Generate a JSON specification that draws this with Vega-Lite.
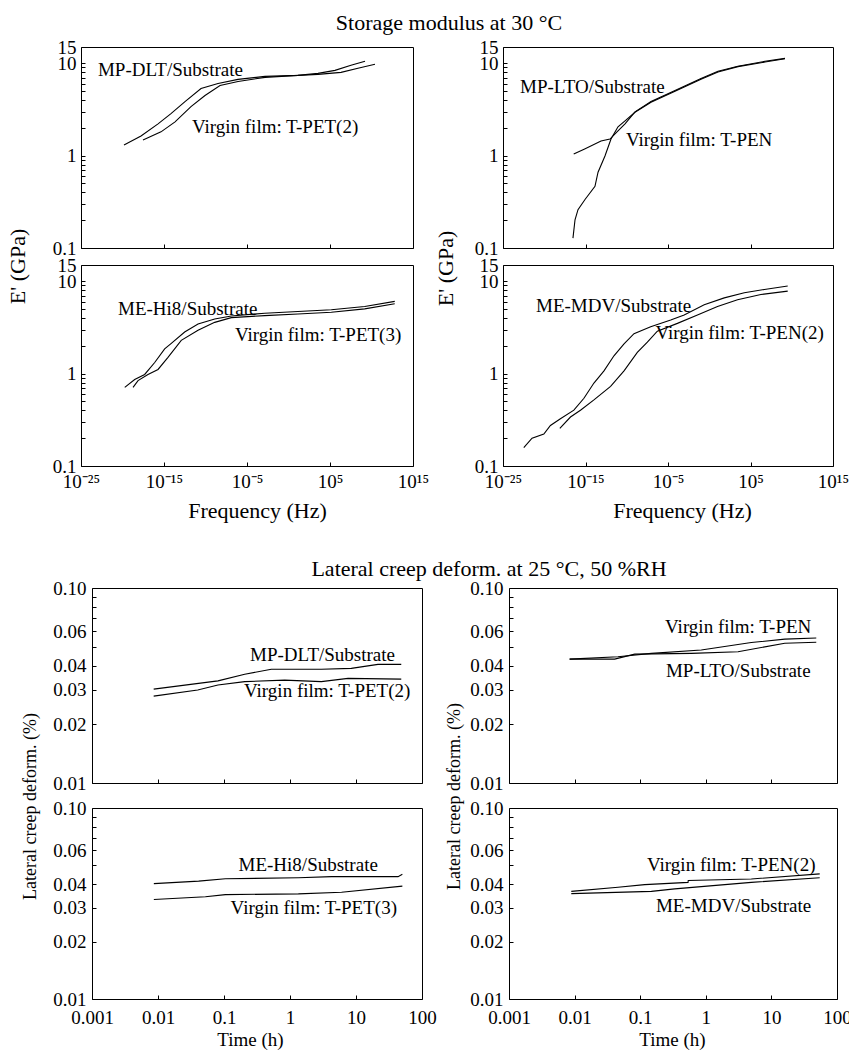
{
  "$schema": "https://vega.github.io/schema/vega-lite/v6.json",
  "background": "white",
  "padding": {"left": 5, "top": 11, "right": 0, "bottom": 0},
  "datasets": {
    "modulus": [
      {"panel": "DLT", "series": "MP-DLT/Substrate", "freq": 1.51e-20, "E": 1.30},
      {"panel": "DLT", "series": "MP-DLT/Substrate", "freq": 1.70e-18, "E": 1.63},
      {"panel": "DLT", "series": "MP-DLT/Substrate", "freq": 1.91e-16, "E": 2.21},
      {"panel": "DLT", "series": "MP-DLT/Substrate", "freq": 6.92e-15, "E": 2.85},
      {"panel": "DLT", "series": "MP-DLT/Substrate", "freq": 3.39e-13, "E": 3.85},
      {"panel": "DLT", "series": "MP-DLT/Substrate", "freq": 2.88e-11, "E": 5.33},
      {"panel": "DLT", "series": "MP-DLT/Substrate", "freq": 3.24e-9, "E": 6.04},
      {"panel": "DLT", "series": "MP-DLT/Substrate", "freq": 8.32e-7, "E": 6.69},
      {"panel": "DLT", "series": "MP-DLT/Substrate", "freq": 1.48e-3, "E": 7.21},
      {"panel": "DLT", "series": "MP-DLT/Substrate", "freq": 13.8, "E": 7.40},
      {"panel": "DLT", "series": "MP-DLT/Substrate", "freq": 3550, "E": 7.78},
      {"panel": "DLT", "series": "MP-DLT/Substrate", "freq": 3.98e5, "E": 8.38},
      {"panel": "DLT", "series": "MP-DLT/Substrate", "freq": 3.39e7, "E": 9.51},
      {"panel": "DLT", "series": "MP-DLT/Substrate", "freq": 1.66e9, "E": 10.5},
      {"panel": "DLT", "series": "T-PET(2)", "freq": 2.95e-18, "E": 1.48},
      {"panel": "DLT", "series": "T-PET(2)", "freq": 4.37e-16, "E": 1.81},
      {"panel": "DLT", "series": "T-PET(2)", "freq": 2.14e-14, "E": 2.32},
      {"panel": "DLT", "series": "T-PET(2)", "freq": 1.78e-12, "E": 3.39},
      {"panel": "DLT", "series": "T-PET(2)", "freq": 8.71e-11, "E": 4.47},
      {"panel": "DLT", "series": "T-PET(2)", "freq": 5.62e-9, "E": 5.75},
      {"panel": "DLT", "series": "T-PET(2)", "freq": 8.32e-7, "E": 6.36},
      {"panel": "DLT", "series": "T-PET(2)", "freq": 1.48e-3, "E": 7.03},
      {"panel": "DLT", "series": "T-PET(2)", "freq": 13.8, "E": 7.40},
      {"panel": "DLT", "series": "T-PET(2)", "freq": 3550, "E": 7.59},
      {"panel": "DLT", "series": "T-PET(2)", "freq": 2.14e6, "E": 7.97},
      {"panel": "DLT", "series": "T-PET(2)", "freq": 2.34e8, "E": 8.82},
      {"panel": "DLT", "series": "T-PET(2)", "freq": 2.63e10, "E": 9.75},

      {"panel": "LTO", "series": "MP-LTO/Substrate", "freq": 3.72e-17, "E": 1.04},
      {"panel": "LTO", "series": "MP-LTO/Substrate", "freq": 7.94e-16, "E": 1.18},
      {"panel": "LTO", "series": "MP-LTO/Substrate", "freq": 7.59e-14, "E": 1.44},
      {"panel": "LTO", "series": "MP-LTO/Substrate", "freq": 9.33e-13, "E": 1.51},
      {"panel": "LTO", "series": "MP-LTO/Substrate", "freq": 8.71e-12, "E": 1.85},
      {"panel": "LTO", "series": "MP-LTO/Substrate", "freq": 6.17e-11, "E": 2.21},
      {"panel": "LTO", "series": "MP-LTO/Substrate", "freq": 1e-9, "E": 2.98},
      {"panel": "LTO", "series": "MP-LTO/Substrate", "freq": 8.71e-8, "E": 3.85},
      {"panel": "LTO", "series": "MP-LTO/Substrate", "freq": 7.08e-5, "E": 5.07},
      {"panel": "LTO", "series": "MP-LTO/Substrate", "freq": 0.1, "E": 6.85},
      {"panel": "LTO", "series": "MP-LTO/Substrate", "freq": 11.5, "E": 8.18},
      {"panel": "LTO", "series": "MP-LTO/Substrate", "freq": 3020, "E": 9.27},
      {"panel": "LTO", "series": "MP-LTO/Substrate", "freq": 5.75e6, "E": 10.5},
      {"panel": "LTO", "series": "MP-LTO/Substrate", "freq": 1.51e9, "E": 11.3},
      {"panel": "LTO", "series": "T-PEN", "freq": 3.02e-17, "E": 0.128},
      {"panel": "LTO", "series": "T-PEN", "freq": 5.37e-17, "E": 0.202},
      {"panel": "LTO", "series": "T-PEN", "freq": 1.23e-16, "E": 0.260},
      {"panel": "LTO", "series": "T-PEN", "freq": 8.71e-16, "E": 0.335},
      {"panel": "LTO", "series": "T-PEN", "freq": 1.41e-14, "E": 0.465},
      {"panel": "LTO", "series": "T-PEN", "freq": 3.31e-14, "E": 0.661},
      {"panel": "LTO", "series": "T-PEN", "freq": 2.29e-13, "E": 0.99},
      {"panel": "LTO", "series": "T-PEN", "freq": 1.23e-12, "E": 1.51},
      {"panel": "LTO", "series": "T-PEN", "freq": 8.71e-12, "E": 2.05},
      {"panel": "LTO", "series": "T-PEN", "freq": 6.17e-11, "E": 2.38},
      {"panel": "LTO", "series": "T-PEN", "freq": 1e-9, "E": 2.95},
      {"panel": "LTO", "series": "T-PEN", "freq": 8.71e-8, "E": 3.78},
      {"panel": "LTO", "series": "T-PEN", "freq": 7.08e-5, "E": 4.98},
      {"panel": "LTO", "series": "T-PEN", "freq": 0.1, "E": 6.72},
      {"panel": "LTO", "series": "T-PEN", "freq": 11.5, "E": 8.05},
      {"panel": "LTO", "series": "T-PEN", "freq": 3020, "E": 9.20},
      {"panel": "LTO", "series": "T-PEN", "freq": 5.75e6, "E": 10.3},
      {"panel": "LTO", "series": "T-PEN", "freq": 1.51e9, "E": 11.2},

      {"panel": "Hi8", "series": "ME-Hi8/Substrate", "freq": 1.86e-20, "E": 0.71},
      {"panel": "Hi8", "series": "ME-Hi8/Substrate", "freq": 2.95e-19, "E": 0.863},
      {"panel": "Hi8", "series": "ME-Hi8/Substrate", "freq": 4.68e-18, "E": 0.98},
      {"panel": "Hi8", "series": "ME-Hi8/Substrate", "freq": 7.59e-17, "E": 1.32},
      {"panel": "Hi8", "series": "ME-Hi8/Substrate", "freq": 1.20e-15, "E": 1.85},
      {"panel": "Hi8", "series": "ME-Hi8/Substrate", "freq": 7.59e-15, "E": 2.13},
      {"panel": "Hi8", "series": "ME-Hi8/Substrate", "freq": 3.09e-13, "E": 2.82},
      {"panel": "Hi8", "series": "ME-Hi8/Substrate", "freq": 1.26e-11, "E": 3.44},
      {"panel": "Hi8", "series": "ME-Hi8/Substrate", "freq": 1.29e-9, "E": 3.90},
      {"panel": "Hi8", "series": "ME-Hi8/Substrate", "freq": 1.29e-7, "E": 4.21},
      {"panel": "Hi8", "series": "ME-Hi8/Substrate", "freq": 1.35e-3, "E": 4.51},
      {"panel": "Hi8", "series": "ME-Hi8/Substrate", "freq": 13.8, "E": 4.70},
      {"panel": "Hi8", "series": "ME-Hi8/Substrate", "freq": 1.45e5, "E": 4.91},
      {"panel": "Hi8", "series": "ME-Hi8/Substrate", "freq": 1.51e9, "E": 5.34},
      {"panel": "Hi8", "series": "ME-Hi8/Substrate", "freq": 6.31e12, "E": 6.06},
      {"panel": "Hi8", "series": "T-PET(3)", "freq": 1.86e-19, "E": 0.71},
      {"panel": "Hi8", "series": "T-PET(3)", "freq": 7.41e-19, "E": 0.84},
      {"panel": "Hi8", "series": "T-PET(3)", "freq": 1.17e-17, "E": 0.98},
      {"panel": "Hi8", "series": "T-PET(3)", "freq": 1.91e-16, "E": 1.11},
      {"panel": "Hi8", "series": "T-PET(3)", "freq": 3.02e-15, "E": 1.50},
      {"panel": "Hi8", "series": "T-PET(3)", "freq": 1.20e-13, "E": 2.29},
      {"panel": "Hi8", "series": "T-PET(3)", "freq": 1.26e-11, "E": 2.95},
      {"panel": "Hi8", "series": "T-PET(3)", "freq": 1.29e-9, "E": 3.59},
      {"panel": "Hi8", "series": "T-PET(3)", "freq": 1.29e-7, "E": 4.04},
      {"panel": "Hi8", "series": "T-PET(3)", "freq": 1.35e-3, "E": 4.25},
      {"panel": "Hi8", "series": "T-PET(3)", "freq": 13.8, "E": 4.43},
      {"panel": "Hi8", "series": "T-PET(3)", "freq": 1.45e5, "E": 4.62},
      {"panel": "Hi8", "series": "T-PET(3)", "freq": 1.51e9, "E": 5.03},
      {"panel": "Hi8", "series": "T-PET(3)", "freq": 6.31e12, "E": 5.71},

      {"panel": "MDV", "series": "ME-MDV/Substrate", "freq": 3.31e-23, "E": 0.158},
      {"panel": "MDV", "series": "ME-MDV/Substrate", "freq": 3.31e-22, "E": 0.200},
      {"panel": "MDV", "series": "ME-MDV/Substrate", "freq": 8.91e-21, "E": 0.222},
      {"panel": "MDV", "series": "ME-MDV/Substrate", "freq": 5.62e-20, "E": 0.275},
      {"panel": "MDV", "series": "ME-MDV/Substrate", "freq": 9.12e-19, "E": 0.325},
      {"panel": "MDV", "series": "ME-MDV/Substrate", "freq": 3.89e-17, "E": 0.402},
      {"panel": "MDV", "series": "ME-MDV/Substrate", "freq": 6.46e-16, "E": 0.541},
      {"panel": "MDV", "series": "ME-MDV/Substrate", "freq": 1.05e-14, "E": 0.791},
      {"panel": "MDV", "series": "ME-MDV/Substrate", "freq": 1.74e-13, "E": 1.07},
      {"panel": "MDV", "series": "ME-MDV/Substrate", "freq": 2.82e-12, "E": 1.56},
      {"panel": "MDV", "series": "ME-MDV/Substrate", "freq": 4.68e-11, "E": 2.10},
      {"panel": "MDV", "series": "ME-MDV/Substrate", "freq": 7.59e-10, "E": 2.71},
      {"panel": "MDV", "series": "ME-MDV/Substrate", "freq": 7.94e-8, "E": 3.21},
      {"panel": "MDV", "series": "ME-MDV/Substrate", "freq": 2.14e-5, "E": 3.80},
      {"panel": "MDV", "series": "ME-MDV/Substrate", "freq": 9.12e-4, "E": 4.32},
      {"panel": "MDV", "series": "ME-MDV/Substrate", "freq": 0.245, "E": 5.57},
      {"panel": "MDV", "series": "ME-MDV/Substrate", "freq": 66.1, "E": 6.61},
      {"panel": "MDV", "series": "ME-MDV/Substrate", "freq": 1.78e4, "E": 7.50},
      {"panel": "MDV", "series": "ME-MDV/Substrate", "freq": 4.79e6, "E": 8.16},
      {"panel": "MDV", "series": "ME-MDV/Substrate", "freq": 3.24e9, "E": 8.87},
      {"panel": "MDV", "series": "T-PEN(2)", "freq": 7.76e-19, "E": 0.256},
      {"panel": "MDV", "series": "T-PEN(2)", "freq": 1.51e-17, "E": 0.339},
      {"panel": "MDV", "series": "T-PEN(2)", "freq": 2.45e-16, "E": 0.402},
      {"panel": "MDV", "series": "T-PEN(2)", "freq": 1.05e-14, "E": 0.519},
      {"panel": "MDV", "series": "T-PEN(2)", "freq": 1.10e-12, "E": 0.728},
      {"panel": "MDV", "series": "T-PEN(2)", "freq": 4.68e-11, "E": 1.07},
      {"panel": "MDV", "series": "T-PEN(2)", "freq": 1.91e-9, "E": 1.70},
      {"panel": "MDV", "series": "T-PEN(2)", "freq": 3.16e-8, "E": 2.19},
      {"panel": "MDV", "series": "T-PEN(2)", "freq": 5.13e-7, "E": 2.88},
      {"panel": "MDV", "series": "T-PEN(2)", "freq": 1.38e-4, "E": 3.50},
      {"panel": "MDV", "series": "T-PEN(2)", "freq": 0.0372, "E": 4.32},
      {"panel": "MDV", "series": "T-PEN(2)", "freq": 10, "E": 5.34},
      {"panel": "MDV", "series": "T-PEN(2)", "freq": 2690, "E": 6.32},
      {"panel": "MDV", "series": "T-PEN(2)", "freq": 1.82e6, "E": 7.18},
      {"panel": "MDV", "series": "T-PEN(2)", "freq": 3.24e9, "E": 7.82}
    ],
    "modulusLabels": [
      {"panel": "DLT", "label": "MP-DLT/Substrate", "freq": 1.1e-23, "E": 8.4},
      {"panel": "DLT", "label": "Virgin film: T-PET(2)", "freq": 2.3e-12, "E": 2.05},
      {"panel": "LTO", "label": "MP-LTO/Substrate", "freq": 1.15e-23, "E": 5.47},
      {"panel": "LTO", "label": "Virgin film: T-PEN", "freq": 8.1e-11, "E": 1.48},
      {"panel": "Hi8", "label": "ME-Hi8/Substrate", "freq": 2.9e-21, "E": 5.03},
      {"panel": "Hi8", "label": "Virgin film: T-PET(3)", "freq": 3.5e-7, "E": 2.63},
      {"panel": "MDV", "label": "ME-MDV/Substrate", "freq": 1.0e-21, "E": 5.43},
      {"panel": "MDV", "label": "Virgin film: T-PEN(2)", "freq": 2.95e-7, "E": 2.73}
    ],
    "creep": [
      {"panel": "DLT", "series": "MP-DLT/Substrate", "time": 0.0086, "creep": 0.0303},
      {"panel": "DLT", "series": "MP-DLT/Substrate", "time": 0.081, "creep": 0.0334},
      {"panel": "DLT", "series": "MP-DLT/Substrate", "time": 0.206, "creep": 0.0361},
      {"panel": "DLT", "series": "MP-DLT/Substrate", "time": 0.521, "creep": 0.0383},
      {"panel": "DLT", "series": "MP-DLT/Substrate", "time": 1.32, "creep": 0.0383},
      {"panel": "DLT", "series": "MP-DLT/Substrate", "time": 2.98, "creep": 0.0383},
      {"panel": "DLT", "series": "MP-DLT/Substrate", "time": 8.49, "creep": 0.0387},
      {"panel": "DLT", "series": "MP-DLT/Substrate", "time": 21.5, "creep": 0.0406},
      {"panel": "DLT", "series": "MP-DLT/Substrate", "time": 48.5, "creep": 0.0406},
      {"panel": "DLT", "series": "T-PET(2)", "time": 0.0086, "creep": 0.0279},
      {"panel": "DLT", "series": "T-PET(2)", "time": 0.040, "creep": 0.0300},
      {"panel": "DLT", "series": "T-PET(2)", "time": 0.081, "creep": 0.0318},
      {"panel": "DLT", "series": "T-PET(2)", "time": 0.206, "creep": 0.0331},
      {"panel": "DLT", "series": "T-PET(2)", "time": 0.83, "creep": 0.0337},
      {"panel": "DLT", "series": "T-PET(2)", "time": 2.98, "creep": 0.0331},
      {"panel": "DLT", "series": "T-PET(2)", "time": 7.57, "creep": 0.0344},
      {"panel": "DLT", "series": "T-PET(2)", "time": 48.5, "creep": 0.0341},

      {"panel": "LTO", "series": "T-PEN", "time": 0.0084, "creep": 0.0432},
      {"panel": "LTO", "series": "T-PEN", "time": 0.0459, "creep": 0.0444},
      {"panel": "LTO", "series": "T-PEN", "time": 0.148, "creep": 0.0462},
      {"panel": "LTO", "series": "T-PEN", "time": 0.853, "creep": 0.0481},
      {"panel": "LTO", "series": "T-PEN", "time": 4.94, "creep": 0.0525},
      {"panel": "LTO", "series": "T-PEN", "time": 16.0, "creep": 0.0547},
      {"panel": "LTO", "series": "T-PEN", "time": 48.3, "creep": 0.0554},
      {"panel": "LTO", "series": "MP-LTO/Substrate", "time": 0.0084, "creep": 0.0432},
      {"panel": "LTO", "series": "MP-LTO/Substrate", "time": 0.0408, "creep": 0.0432},
      {"panel": "LTO", "series": "MP-LTO/Substrate", "time": 0.0824, "creep": 0.0458},
      {"panel": "LTO", "series": "MP-LTO/Substrate", "time": 0.601, "creep": 0.0462},
      {"panel": "LTO", "series": "MP-LTO/Substrate", "time": 3.10, "creep": 0.0471},
      {"panel": "LTO", "series": "MP-LTO/Substrate", "time": 16.0, "creep": 0.0521},
      {"panel": "LTO", "series": "MP-LTO/Substrate", "time": 48.3, "creep": 0.0527},

      {"panel": "Hi8", "series": "ME-Hi8/Substrate", "time": 0.00865, "creep": 0.0402},
      {"panel": "Hi8", "series": "ME-Hi8/Substrate", "time": 0.0413, "creep": 0.0414},
      {"panel": "Hi8", "series": "ME-Hi8/Substrate", "time": 0.105, "creep": 0.0426},
      {"panel": "Hi8", "series": "ME-Hi8/Substrate", "time": 1.34, "creep": 0.0431},
      {"panel": "Hi8", "series": "ME-Hi8/Substrate", "time": 4.27, "creep": 0.0437},
      {"panel": "Hi8", "series": "ME-Hi8/Substrate", "time": 43.4, "creep": 0.0437},
      {"panel": "Hi8", "series": "ME-Hi8/Substrate", "time": 50.4, "creep": 0.0450},
      {"panel": "Hi8", "series": "T-PET(3)", "time": 0.00865, "creep": 0.0332},
      {"panel": "Hi8", "series": "T-PET(3)", "time": 0.0523, "creep": 0.0343},
      {"panel": "Hi8", "series": "T-PET(3)", "time": 0.105, "creep": 0.0352},
      {"panel": "Hi8", "series": "T-PET(3)", "time": 1.34, "creep": 0.0355},
      {"panel": "Hi8", "series": "T-PET(3)", "time": 6.04, "creep": 0.0362},
      {"panel": "Hi8", "series": "T-PET(3)", "time": 50.4, "creep": 0.0390},

      {"panel": "MDV", "series": "T-PEN(2)", "time": 0.0089, "creep": 0.0366},
      {"panel": "MDV", "series": "T-PEN(2)", "time": 0.0459, "creep": 0.0385},
      {"panel": "MDV", "series": "T-PEN(2)", "time": 0.117, "creep": 0.0397},
      {"panel": "MDV", "series": "T-PEN(2)", "time": 0.536, "creep": 0.0408},
      {"panel": "MDV", "series": "T-PEN(2)", "time": 0.54, "creep": 0.0417},
      {"panel": "MDV", "series": "T-PEN(2)", "time": 4.94, "creep": 0.0425},
      {"panel": "MDV", "series": "T-PEN(2)", "time": 54.5, "creep": 0.0452},
      {"panel": "MDV", "series": "ME-MDV/Substrate", "time": 0.0089, "creep": 0.0356},
      {"panel": "MDV", "series": "ME-MDV/Substrate", "time": 0.148, "creep": 0.0366},
      {"panel": "MDV", "series": "ME-MDV/Substrate", "time": 0.336, "creep": 0.0377},
      {"panel": "MDV", "series": "ME-MDV/Substrate", "time": 4.94, "creep": 0.0408},
      {"panel": "MDV", "series": "ME-MDV/Substrate", "time": 54.5, "creep": 0.0431}
    ],
    "creepLabels": [
      {"panel": "DLT", "label": "MP-DLT/Substrate", "time": 0.248, "creep": 0.0453},
      {"panel": "DLT", "label": "Virgin film: T-PET(2)", "time": 0.201, "creep": 0.0297},
      {"panel": "LTO", "label": "Virgin film: T-PEN", "time": 0.239, "creep": 0.0634},
      {"panel": "LTO", "label": "MP-LTO/Substrate", "time": 0.247, "creep": 0.0374},
      {"panel": "Hi8", "label": "ME-Hi8/Substrate", "time": 0.166, "creep": 0.0501},
      {"panel": "Hi8", "label": "Virgin film: T-PET(3)", "time": 0.126, "creep": 0.0298},
      {"panel": "MDV", "label": "Virgin film: T-PEN(2)", "time": 0.127, "creep": 0.0505},
      {"panel": "MDV", "label": "ME-MDV/Substrate", "time": 0.174, "creep": 0.0305}
    ]
  },
  "vconcat": [
    {
      "title": {"text": "Storage modulus at 30 °C", "frame": "group", "anchor": "middle", "baseline": "alphabetic", "offset": -14, "dx": 368},
      "columns": 2,
      "bounds": "flush",
      "spacing": {"row": 17, "column": 90},
      "concat": [
        {
          "width": 332, "height": 201,
          "encoding": {
            "x": {"field": "freq", "type": "quantitative", "scale": {"type": "log", "domain": [1e-25, 1e15], "nice": false},
                  "axis": {"values": [1e-25, 1e-15, 1e-5, 1e5, 1e15], "labels": false, "title": null}},
            "y": {"field": "E", "type": "quantitative", "scale": {"type": "log", "domain": [0.1, 15], "nice": false},
                  "axis": {"values": [0.1, 0.2, 0.3, 0.4, 0.5, 0.6, 0.7, 0.8, 0.9, 1, 2, 3, 4, 5, 6, 7, 8, 9, 10, 15],
                           "labelExpr": "(datum.value == 0.1 || datum.value == 1 || datum.value == 10 || datum.value == 15) ? datum.label : ''",
                           "labelPadding": 9,
                           "title": "E' (GPa)", "titleFontSize": 22, "titleAngle": 270, "titleBaseline": "alphabetic", "titleAlign": "center", "titleX": -57, "titleY": 219}}
          },
          "layer": [
            {"data": {"name": "modulus"}, "transform": [{"filter": "datum.panel === 'DLT'"}],
             "mark": {"type": "line", "color": "black", "strokeWidth": 1.1},
             "encoding": {"detail": {"field": "series"}}},
            {"data": {"name": "modulusLabels"}, "transform": [{"filter": "datum.panel === 'DLT'"}],
             "mark": {"type": "text", "align": "left", "baseline": "middle", "fontSize": 19, "font": "Liberation Serif", "color": "black"},
             "encoding": {"text": {"field": "label"}}}
          ]
        },
        {
          "width": 330, "height": 201,
          "encoding": {
            "x": {"field": "freq", "type": "quantitative", "scale": {"type": "log", "domain": [1e-25, 1e15], "nice": false},
                  "axis": {"values": [1e-25, 1e-15, 1e-5, 1e5, 1e15], "labels": false, "title": null}},
            "y": {"field": "E", "type": "quantitative", "scale": {"type": "log", "domain": [0.1, 15], "nice": false},
                  "axis": {"values": [0.1, 0.2, 0.3, 0.4, 0.5, 0.6, 0.7, 0.8, 0.9, 1, 2, 3, 4, 5, 6, 7, 8, 9, 10, 15],
                           "labelExpr": "(datum.value == 0.1 || datum.value == 1 || datum.value == 10 || datum.value == 15) ? datum.label : ''",
                           "labelPadding": 9,
                           "title": "E' (GPa)", "titleFontSize": 22, "titleAngle": 270, "titleBaseline": "alphabetic", "titleAlign": "center", "titleX": -51, "titleY": 221}}
          },
          "layer": [
            {"data": {"name": "modulus"}, "transform": [{"filter": "datum.panel === 'LTO'"}],
             "mark": {"type": "line", "color": "black", "strokeWidth": 1.1},
             "encoding": {"detail": {"field": "series"}}},
            {"data": {"name": "modulusLabels"}, "transform": [{"filter": "datum.panel === 'LTO'"}],
             "mark": {"type": "text", "align": "left", "baseline": "middle", "fontSize": 19, "font": "Liberation Serif", "color": "black"},
             "encoding": {"text": {"field": "label"}}}
          ]
        },
        {
          "width": 332, "height": 201,
          "encoding": {
            "x": {"field": "freq", "type": "quantitative", "scale": {"type": "log", "domain": [1e-25, 1e15], "nice": false},
                  "axis": {"values": [1e-25, 1e-15, 1e-5, 1e5, 1e15],
                           "labelExpr": "datum.value < 1e-20 ? '10⁻²⁵' : datum.value < 1e-10 ? '10⁻¹⁵' : datum.value < 1 ? '10⁻⁵' : datum.value < 1e10 ? '10⁵' : '10¹⁵'",
                           "labelPadding": 25,
                           "title": "Frequency (Hz)", "titleFontSize": 22, "titleBaseline": "alphabetic", "titleX": 176, "titleY": 51}},
            "y": {"field": "E", "type": "quantitative", "scale": {"type": "log", "domain": [0.1, 15], "nice": false},
                  "axis": {"values": [0.1, 0.2, 0.3, 0.4, 0.5, 0.6, 0.7, 0.8, 0.9, 1, 2, 3, 4, 5, 6, 7, 8, 9, 10, 15],
                           "labelExpr": "(datum.value == 0.1 || datum.value == 1 || datum.value == 10 || datum.value == 15) ? datum.label : ''",
                           "labelPadding": 9, "title": null}}
          },
          "layer": [
            {"data": {"name": "modulus"}, "transform": [{"filter": "datum.panel === 'Hi8'"}],
             "mark": {"type": "line", "color": "black", "strokeWidth": 1.1},
             "encoding": {"detail": {"field": "series"}}},
            {"data": {"name": "modulusLabels"}, "transform": [{"filter": "datum.panel === 'Hi8'"}],
             "mark": {"type": "text", "align": "left", "baseline": "middle", "fontSize": 19, "font": "Liberation Serif", "color": "black"},
             "encoding": {"text": {"field": "label"}}}
          ]
        },
        {
          "width": 330, "height": 201,
          "encoding": {
            "x": {"field": "freq", "type": "quantitative", "scale": {"type": "log", "domain": [1e-25, 1e15], "nice": false},
                  "axis": {"values": [1e-25, 1e-15, 1e-5, 1e5, 1e15],
                           "labelExpr": "datum.value < 1e-20 ? '10⁻²⁵' : datum.value < 1e-10 ? '10⁻¹⁵' : datum.value < 1 ? '10⁻⁵' : datum.value < 1e10 ? '10⁵' : '10¹⁵'",
                           "labelPadding": 25,
                           "title": "Frequency (Hz)", "titleFontSize": 22, "titleBaseline": "alphabetic", "titleX": 179, "titleY": 51}},
            "y": {"field": "E", "type": "quantitative", "scale": {"type": "log", "domain": [0.1, 15], "nice": false},
                  "axis": {"values": [0.1, 0.2, 0.3, 0.4, 0.5, 0.6, 0.7, 0.8, 0.9, 1, 2, 3, 4, 5, 6, 7, 8, 9, 10, 15],
                           "labelExpr": "(datum.value == 0.1 || datum.value == 1 || datum.value == 10 || datum.value == 15) ? datum.label : ''",
                           "labelPadding": 9, "title": null}}
          },
          "layer": [
            {"data": {"name": "modulus"}, "transform": [{"filter": "datum.panel === 'MDV'"}],
             "mark": {"type": "line", "color": "black", "strokeWidth": 1.1},
             "encoding": {"detail": {"field": "series"}}},
            {"data": {"name": "modulusLabels"}, "transform": [{"filter": "datum.panel === 'MDV'"}],
             "mark": {"type": "text", "align": "left", "baseline": "middle", "fontSize": 19, "font": "Liberation Serif", "color": "black"},
             "encoding": {"text": {"field": "label"}}}
          ]
        }
      ]
    },
    {
      "hconcat": [
        {
          "width": 1, "height": 1,
          "data": {"values": []},
          "mark": "text",
          "view": {"stroke": null}
        },
        {
          "title": {"text": "Lateral creep deform. at 25 °C, 50 %RH", "frame": "group", "anchor": "middle", "baseline": "alphabetic", "offset": -19, "dx": 397},
          "columns": 2,
          "bounds": "flush",
          "spacing": {"row": 25, "column": 87},
          "concat": [
            {
              "width": 330, "height": 195,
              "encoding": {
                "x": {"field": "time", "type": "quantitative", "scale": {"type": "log", "domain": [0.001, 100], "nice": false},
                      "axis": {"values": [0.001, 0.01, 0.1, 1, 10, 100], "labels": false, "title": null}},
                "y": {"field": "creep", "type": "quantitative", "scale": {"type": "log", "domain": [0.01, 0.1], "nice": false},
                      "axis": {"values": [0.01, 0.02, 0.03, 0.04, 0.05, 0.06, 0.07, 0.08, 0.09, 0.1],
                               "format": ".2f",
                               "labelExpr": "(datum.value == 0.05 || datum.value == 0.07 || datum.value == 0.08 || datum.value == 0.09) ? '' : datum.label",
                               "labelPadding": 10,
                               "title": "Lateral creep deform. (%)", "titleFontSize": 18, "titleAngle": 270, "titleBaseline": "alphabetic", "titleAlign": "center", "titleX": -57, "titleY": 218}}
              },
              "layer": [
                {"data": {"name": "creep"}, "transform": [{"filter": "datum.panel === 'DLT'"}],
                 "mark": {"type": "line", "color": "black", "strokeWidth": 1.1},
                 "encoding": {"detail": {"field": "series"}}},
                {"data": {"name": "creepLabels"}, "transform": [{"filter": "datum.panel === 'DLT'"}],
                 "mark": {"type": "text", "align": "left", "baseline": "middle", "fontSize": 19, "font": "Liberation Serif", "color": "black"},
                 "encoding": {"text": {"field": "label"}}}
              ]
            },
            {
              "width": 328, "height": 195,
              "encoding": {
                "x": {"field": "time", "type": "quantitative", "scale": {"type": "log", "domain": [0.001, 100], "nice": false},
                      "axis": {"values": [0.001, 0.01, 0.1, 1, 10, 100], "labels": false, "title": null}},
                "y": {"field": "creep", "type": "quantitative", "scale": {"type": "log", "domain": [0.01, 0.1], "nice": false},
                      "axis": {"values": [0.01, 0.02, 0.03, 0.04, 0.05, 0.06, 0.07, 0.08, 0.09, 0.1],
                               "format": ".2f",
                               "labelExpr": "(datum.value == 0.05 || datum.value == 0.07 || datum.value == 0.08 || datum.value == 0.09) ? '' : datum.label",
                               "labelPadding": 10,
                               "title": "Lateral creep deform. (%)", "titleFontSize": 18, "titleAngle": 270, "titleBaseline": "alphabetic", "titleAlign": "center", "titleX": -50, "titleY": 208}}
              },
              "layer": [
                {"data": {"name": "creep"}, "transform": [{"filter": "datum.panel === 'LTO'"}],
                 "mark": {"type": "line", "color": "black", "strokeWidth": 1.1},
                 "encoding": {"detail": {"field": "series"}}},
                {"data": {"name": "creepLabels"}, "transform": [{"filter": "datum.panel === 'LTO'"}],
                 "mark": {"type": "text", "align": "left", "baseline": "middle", "fontSize": 19, "font": "Liberation Serif", "color": "black"},
                 "encoding": {"text": {"field": "label"}}}
              ]
            },
            {
              "width": 330, "height": 191,
              "encoding": {
                "x": {"field": "time", "type": "quantitative", "scale": {"type": "log", "domain": [0.001, 100], "nice": false},
                      "axis": {"values": [0.001, 0.01, 0.1, 1, 10, 100], "format": "~g",
                               "labelPadding": 28,
                               "title": "Time (h)", "titleFontSize": 19, "titleBaseline": "alphabetic", "titleX": 158, "titleY": 46}},
                "y": {"field": "creep", "type": "quantitative", "scale": {"type": "log", "domain": [0.01, 0.1], "nice": false},
                      "axis": {"values": [0.01, 0.02, 0.03, 0.04, 0.05, 0.06, 0.07, 0.08, 0.09, 0.1],
                               "format": ".2f",
                               "labelExpr": "(datum.value == 0.05 || datum.value == 0.07 || datum.value == 0.08 || datum.value == 0.09) ? '' : datum.label",
                               "labelPadding": 10, "title": null}}
              },
              "layer": [
                {"data": {"name": "creep"}, "transform": [{"filter": "datum.panel === 'Hi8'"}],
                 "mark": {"type": "line", "color": "black", "strokeWidth": 1.1},
                 "encoding": {"detail": {"field": "series"}}},
                {"data": {"name": "creepLabels"}, "transform": [{"filter": "datum.panel === 'Hi8'"}],
                 "mark": {"type": "text", "align": "left", "baseline": "middle", "fontSize": 19, "font": "Liberation Serif", "color": "black"},
                 "encoding": {"text": {"field": "label"}}}
              ]
            },
            {
              "width": 328, "height": 191,
              "encoding": {
                "x": {"field": "time", "type": "quantitative", "scale": {"type": "log", "domain": [0.001, 100], "nice": false},
                      "axis": {"values": [0.001, 0.01, 0.1, 1, 10, 100], "format": "~g",
                               "labelPadding": 28,
                               "title": "Time (h)", "titleFontSize": 19, "titleBaseline": "alphabetic", "titleX": 163, "titleY": 46}},
                "y": {"field": "creep", "type": "quantitative", "scale": {"type": "log", "domain": [0.01, 0.1], "nice": false},
                      "axis": {"values": [0.01, 0.02, 0.03, 0.04, 0.05, 0.06, 0.07, 0.08, 0.09, 0.1],
                               "format": ".2f",
                               "labelExpr": "(datum.value == 0.05 || datum.value == 0.07 || datum.value == 0.08 || datum.value == 0.09) ? '' : datum.label",
                               "labelPadding": 10, "title": null}}
              },
              "layer": [
                {"data": {"name": "creep"}, "transform": [{"filter": "datum.panel === 'MDV'"}],
                 "mark": {"type": "line", "color": "black", "strokeWidth": 1.1},
                 "encoding": {"detail": {"field": "series"}}},
                {"data": {"name": "creepLabels"}, "transform": [{"filter": "datum.panel === 'MDV'"}],
                 "mark": {"type": "text", "align": "left", "baseline": "middle", "fontSize": 19, "font": "Liberation Serif", "color": "black"},
                 "encoding": {"text": {"field": "label"}}}
              ]
            }
          ]
        }
      ],
      "spacing": 10,
      "bounds": "flush"
    }
  ],
  "spacing": 35,
  "config": {
    "font": "Liberation Serif",
    "view": {"stroke": "black", "strokeWidth": 1},
    "axis": {
      "domain": false, "grid": false, "ticks": true,
      "tickColor": "black", "tickSize": -4, "tickWidth": 1,
      "labelFont": "Liberation Serif", "labelFontSize": 19, "labelColor": "black",
      "titleFont": "Liberation Serif", "titleFontWeight": "normal", "titleColor": "black",
      "labelFlush": false, "labelOverlap": false, "labelBound": false
    },
    "axisX": {"labelBaseline": "alphabetic"},
    "title": {"font": "Liberation Serif", "fontSize": 22, "fontWeight": "normal", "color": "black"}
  }
}
